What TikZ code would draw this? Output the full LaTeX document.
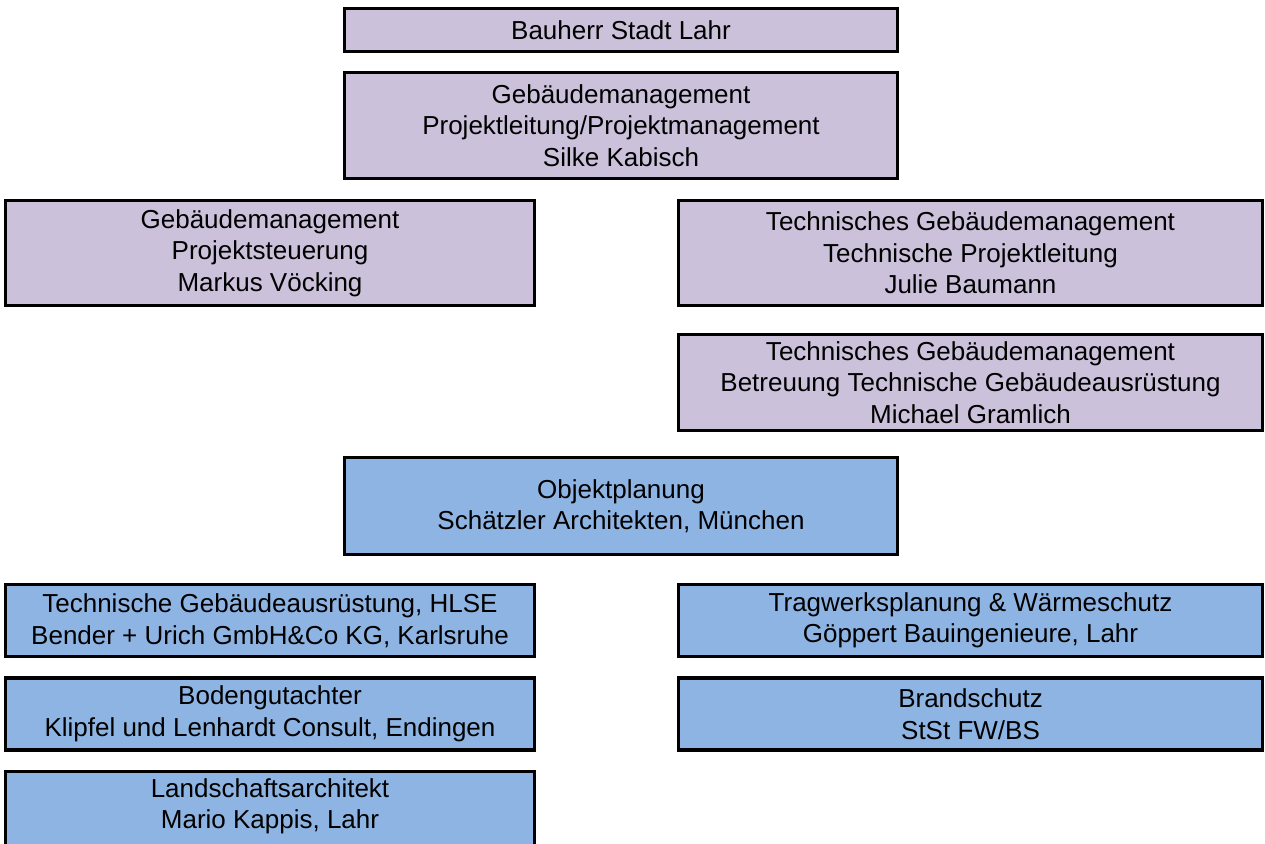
\documentclass[tikz,border=0pt]{standalone}
\usepackage{fontspec}
\setmainfont{Liberation Sans}
\definecolor{lila}{RGB}{204,193,218}
\definecolor{blau}{RGB}{142,180,227}
\begin{document}
\begin{tikzpicture}[x=1pt,y=-1pt,
  box/.style={draw=black,line width=3.2pt,inner sep=0pt,align=center,
    font=\fontsize{26}{31.5}\selectfont,text=black},
  pbox/.style={box,fill=lila},
  bbox/.style={box,fill=blau},
  txt/.style={inner sep=0pt,align=center,font=\fontsize{26}{31.5}\selectfont,text=black}]
\useasboundingbox (0,0) rectangle (1265,843);
\node[pbox,minimum width=553pt,minimum height=43pt] (bauherr) at (621,30) {Bauherr Stadt Lahr};
\node[pbox,minimum width=553pt,minimum height=106pt] (pl) at (621,125.5) {Gebäudemanagement\\Projektleitung/Projektmanagement\\Silke Kabisch};
\node[pbox,minimum width=529pt,minimum height=105pt] (ps) at (270,253) {Gebäudemanagement\\Projektsteuerung\\Markus Vöcking};
\node[pbox,minimum width=584pt,minimum height=105pt] (tpl) at (970.5,253) {Technisches Gebäudemanagement\\Technische Projektleitung\\Julie Baumann};
\node[pbox,minimum width=584pt,minimum height=96pt] (tga) at (970.5,382.5) {Technisches Gebäudemanagement\\Betreuung Technische Gebäudeausrüstung\\Michael Gramlich};
\node[bbox,minimum width=553pt,minimum height=97pt] (obj) at (621,506) {Objektplanung\\Schätzler Architekten, München};
\node[bbox,minimum width=529pt,minimum height=72pt] (hlse) at (270,620.5) {Technische Gebäudeausrüstung, HLSE\\Bender + Urich GmbH\&Co KG, Karlsruhe};
\node[bbox,minimum width=529pt,minimum height=72pt] (boden) at (270,714) {Bodengutachter\\Klipfel und Lenhardt Consult, Endingen};
\node[bbox,minimum width=529pt,minimum height=82pt] (land) at (270,812.5) {};
\node[txt] (landtext) at (270,806.5) {Landschaftsarchitekt\\Mario Kappis, Lahr};
\node[bbox,minimum width=584pt,minimum height=72pt] (trag) at (970.5,620.5) {Tragwerksplanung \& Wärmeschutz\\Göppert Bauingenieure, Lahr};
\node[bbox,minimum width=584pt,minimum height=72pt] (brand) at (970.5,714) {Brandschutz\\StSt FW/BS};
\end{tikzpicture}
\end{document}
